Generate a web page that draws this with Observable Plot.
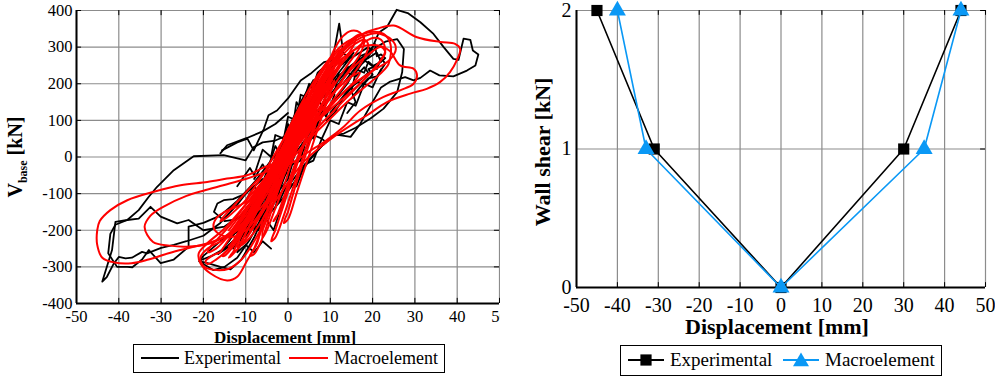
<!DOCTYPE html>
<html><head><meta charset="utf-8">
<script src="https://cdn.jsdelivr.net/npm/d3@7"></script>
<script src="https://cdn.jsdelivr.net/npm/@observablehq/plot@0.6"></script>
<style>
body{margin:0;background:#fff;}
#wrap{position:relative;width:995px;height:376px;overflow:hidden;background:#fff;font-family:"Liberation Serif","DejaVu Serif",serif;color:#000;}
#left,#right{position:absolute;top:0;}
#left{left:0;width:500px;overflow:hidden;}
#right{left:500px;}
.lab{position:absolute;font-weight:bold;white-space:nowrap;line-height:1;}
.legend{position:absolute;background:#fff;border:1.5px solid #000;box-sizing:border-box;}
.legend .t{position:absolute;white-space:nowrap;line-height:1;}
.legend svg{position:absolute;}
</style></head><body>
<div id="wrap">
  <div id="left"></div>
  <div id="right"></div>
</div>
<script>
// ---------- DATA ----------
const seriesNames = ["Experimental", "Macroelement"];
const xTicks = [-50, -40, -30, -20, -10, 0, 10, 20, 30, 40, 50];
const yTicksBase = [-400, -300, -200, -100, 0, 100, 200, 300, 400];
const yTicksWall = [0, 1, 2];

// Left panel: experimental hysteresis (displacement mm, base shear kN)
const experimentalLoops = [
  [[0,0],[1.5,40],[3,75],[2.2,55],[0.5,20],[-1,-20],[-2.8,-60],[-2,-45],[0,-5]],
  [[0,-5],[2,50],[4,90],[5.5,120],[4.5,100],[2,60],[-0.5,10],[-3,-45],[-5,-90],[-6.5,-120],[-5,-105],[-2,-45],[0,0]],
  [[0,0],[2.5,70],[5,120],[7,150],[8.5,175],[7,155],[4,110],[1,50],[-2,-10],[-4.5,-65],[-7,-120],[-9,-150],[-10,-170],[-8,-150],[-5,-100],[-1,-25]],
  [[-1,-25],[2,45],[4.5,115],[7,160],[9,190],[11,215],[10,200],[7.5,170],[4,120],[1.5,70],[-1,15],[-4,-45],[-7,-100],[-9.5,-150],[-12,-195],[-13.5,-215],[-12,-205],[-9,-165],[-6,-110],[-2,-40]],
  [[-2,-40],[1,30],[3,90],[6,150],[9,210],[12,245],[14,265],[15.5,285],[14,260],[11,215],[8,175],[5,130],[2,80],[-1,20],[-4,-40],[-7,-110],[-10,-165],[-13,-215],[-15,-245],[-16.5,-265],[-14,-245],[-10,-185],[-6,-120],[-2,-45]],
  [[-2,-20],[0,60],[2,110],[4,140],[5,170],[3,130],[1,90],[-1,40],[-3,0],[-4,-40],[-6,-90],[-5,-70],[-3,-40],[-1,10]],
  [[-3,-50],[0,30],[3,100],[5.3,150],[8,200],[10,230],[12.1,364],[13.1,282],[15,270],[17,285],[19,300],[20,290],[18,260],[16,240],[14,200],[12,170],[9,130],[6,80],[3,30],[0,-20],[-3,-80],[-6,-140],[-9,-185],[-12,-220],[-14,-240],[-11,-215],[-8,-175],[-5,-120],[-3,-50]],
  [[-2,-20],[1,50],[4,110],[8,170],[12,220],[15,250],[18,275],[20,300],[21.5,340],[23.4,355],[25.7,402],[28.3,393],[31.3,368],[34.4,336],[36.8,300],[39.1,268],[40.3,265],[41.5,323],[43.1,320],[43.7,291],[45,280],[44.3,250],[42.3,236],[39.1,220],[35.8,223],[33.6,236],[31.3,216],[29.7,209],[27.7,218],[24,205],[22,190],[20,150],[17.1,91],[14.8,55],[11,62],[8,30],[4,-20],[0,-80],[-3.4,-200],[-5.3,-168],[-7,-160],[-10,-180],[-14,-210],[-18,-250],[-20,-270],[-21,-285],[-19,-290],[-16,-300],[-13.6,-307],[-11,-280],[-8,-220],[-5,-140],[-2,-60]],
  [[0,0],[4,90],[8,160],[12,210],[15,250],[18,275],[21,300],[23,315],[25.8,322],[27.4,295],[27,232],[25.8,177],[22.6,132],[19.5,105],[16,80],[13.2,64],[10.8,59],[8,30],[5,-10],[2,-60],[-1,-110],[-4,-150]],
  [[-15.6,18],[-12,40],[-9.6,50],[-8.1,18],[-5.7,77],[-4.6,114],[-2.6,127],[0,160],[3,209],[5.3,227],[8.5,259],[11,265],[13,255]],
  [[0,60],[-3,45],[-6,40],[-8.1,27],[-10,-9],[-15.2,5],[-22.3,2],[-27,-36],[-31,-82],[-33,-110],[-35.3,-145],[-38,-172],[-40.8,-177],[-41.6,-254],[-43.9,-340],[-42.8,-327],[-41.2,-291],[-40,-273],[-38.4,-277],[-36.9,-275],[-34.5,-259],[-33.3,-263],[-30,-248],[-27,-240],[-24,-230],[-20,-215],[-16,-180],[-12,-130],[-8,-70],[-4,-10],[-1,40]],
  [[-16,10],[-14.4,32],[-9.7,52],[-6,70],[-3,90],[0,120]],
  [[-10,-150],[-15,-190],[-20,-200],[-23.5,-172],[-26.2,-181],[-30.1,-163],[-32.5,-136],[-35.3,-168],[-38,-172],[-40.8,-185],[-42,-210],[-42.5,-263],[-40.4,-300],[-38,-300],[-36.8,-301],[-34.5,-280],[-32.9,-254],[-30.1,-290],[-27,-280],[-23.5,-245],[-23.5,-190],[-20,-180],[-16,-160],[-12,-120],[-8,-70]],
  [[-6,-110],[-9,-170],[-12,-220],[-15,-250],[-18,-270],[-20.7,-282],[-20,-292],[-17.6,-309],[-15,-300],[-12,-275],[-9,-225],[-6,-160],[-3,-90]],
  [[-6,-60],[-10,-100],[-13,-115],[-15.2,-118],[-16.7,-127],[-17.5,-150],[-15,-175],[-12,-170],[-9,-140],[-6,-100]],
  [[10,180],[12,220],[14,245],[16,250],[17,275],[19,285],[20,300],[20.5,310],[21,275],[22,280],[23,270],[21,250],[19,240],[20,225],[18,200],[16,205],[14,180],[12,150],[10,120]],
  [[13,200],[15,230],[17,260],[19,270],[21,285],[22,260],[20,248],[18,265],[16,230],[15,180],[16,150],[14,120]],
  [[-6,-150],[-4,-90],[-2,-40],[0,20],[2,70],[4,110],[6,150],[7,140],[5,100],[3,50],[1,0],[-1,-60],[-3,-120],[-5,-160],[-7,-190],[-6,-150]],
  [[-9,-180],[-7,-120],[-5,-70],[-3,-20],[-1,40],[1,100],[3,150],[5,190],[6,210],[5,185],[3,130],[1,80],[-1,20],[-3,-40],[-5,-100],[-7,-150],[-9,-200],[-10,-215],[-9,-180]],
  [[-12,-230],[-9,-160],[-6,-110],[-3,-50],[0,20],[2,80],[5,140],[8,200],[10,240],[11,250],[9,210],[7,170],[4,110],[1,50],[-2,-10],[-5,-80],[-8,-150],[-11,-210],[-13,-250],[-12,-230]],
  [[-10,-120],[-8,-80],[-7,-100],[-5,-40],[-4,-60],[-2,10],[-1,-10],[1,60],[2,40],[4,110],[5,90],[7,160],[8,140],[10,190]],
  [[10,140],[8,120],[6,60],[4,40],[3,-10],[1,-20],[0,-60],[-2,-90],[-3,-140],[-5,-150],[-6,-190]],
  [[8,130],[10,170],[12,200],[14,230],[16,220],[18,245],[19,230],[17,210],[15,190],[13,160],[11,120],[9,100]],
  [[-8,-200],[-7,-150],[-9,-130],[-6,-90],[-4,-100],[-3,-50],[-1,-30],[0,30],[2,20],[3,80],[5,70],[6,130],[8,120],[9,170],[11,175],[12,230]],
  [[-14,-230],[-11,-170],[-9,-190],[-7,-120],[-6,-140],[-4,-80],[-3,-100],[-1,-30],[0,-50],[2,20],[3,0],[5,70],[6,50],[8,130],[9,110],[11,170]],
  [[16,240],[18,230],[19,260],[21,240],[22,270],[23,255],[21,220],[19,215],[17,190],[15,160]],
  [[-4,-250],[-6,-230],[-8,-260],[-10,-240],[-12,-260],[-11,-220],[-9,-190],[-7,-200],[-5,-150]],
  [[-8,-60],[-6,-20],[-5,-40],[-3,30],[-2,10],[0,90],[1,70],[2,150],[3,130],[5,200],[6,180],[8,240]],
  [[-12,-80],[-9,-30],[-8,-50],[-6,20],[-4,0],[-3,60],[-1,50],[0,110],[2,100],[3,170],[5,160],[7,230],[9,250]],
  [[4,20],[6,60],[8,50],[10,100],[12,90],[14,150],[16,140],[18,200],[20,190],[22,240]],
  [[-2,-120],[0,-70],[2,-80],[4,-20],[6,-10],[8,50],[9,40]]
];

// Left panel: macroelement hysteresis
const macroelementLoops = [
  [[-4,-70],[-2,-30],[0,10],[2,50],[4,85],[5,100],[4.5,95],[3,65],[1,25],[-1,-15],[-3,-55],[-4.5,-85],[-5,-95],[-4,-70]],
  [[-6,-100],[-3,-40],[0,20],[3,80],[6,130],[7.5,155],[7,150],[5,115],[2,55],[-1,-10],[-4,-70],[-7,-125],[-8,-140],[-7,-120],[-6,-100]],
  [[-8,-140],[-4,-60],[0,20],[4,100],[8,170],[10,205],[10.5,210],[9,190],[6,140],[2,70],[-2,-10],[-6,-90],[-9,-160],[-11,-195],[-11.5,-200],[-10,-175],[-8,-140]],
  [[-10,-180],[-6,-100],[-2,-10],[2,80],[6,160],[10,230],[12,260],[13,270],[12.5,260],[10,215],[6,150],[2,80],[-2,0],[-6,-90],[-10,-170],[-13,-230],[-14,-245],[-13,-230],[-10,-180]],
  [[-12,-220],[-8,-140],[-4,-50],[0,40],[4,130],[8,210],[12,280],[15,320],[17,335],[18,330],[17,300],[14,250],[10,180],[6,110],[2,40],[-2,-30],[-6,-110],[-10,-190],[-13,-245],[-15,-270],[-15.5,-270],[-14,-250],[-12,-220]],
  [[-16,-260],[-12,-190],[-8,-110],[-4,-30],[0,50],[4,140],[8,220],[12,285],[16,325],[20,342],[22.6,336],[24.2,309],[23.8,255],[21.8,227],[18,190],[14,150],[10,105],[6,60],[2,10],[-2,-50],[-6,-120],[-10,-190],[-14,-250],[-17,-280],[-19,-292],[-19.5,-285],[-18,-270],[-16,-260]],
  [[-6,-80],[-2,-10],[2,80],[6,160],[9,225],[12,275],[15,315],[18,338],[21,350],[25,359],[30.5,327],[36,314],[39.5,309],[40.7,295],[39.9,264],[38.3,232],[36,205],[32.8,186],[28.9,173],[23.4,150],[18.7,114],[15.5,91],[10.8,55],[7.6,27],[4,-10],[0,-70],[-3,-120],[-5.7,-163],[-7.3,-236],[-9.6,-281],[-12,-327],[-14.4,-337],[-18.3,-318],[-20.7,-290],[-21.1,-263],[-19.1,-236],[-15,-195],[-10,-130],[-6,-80]],
  [[-6,-80],[-2,0],[2,90],[6,170],[10,235],[14,280],[17,300],[21,305],[24,290],[26.5,250],[29.7,241],[30.5,223],[29.7,200],[26.5,182],[22.6,164],[17.1,127],[13.1,82],[9,45],[5,15],[1,-15],[-5,-40],[-10,-60],[-15.3,-77],[-20,-92],[-24,-106],[-29.5,-136],[-32.5,-160],[-33.9,-191],[-31.9,-232],[-28,-242],[-24,-245],[-18.5,-236],[-14,-210],[-10,-160],[-6,-80]],
  [[0,-10],[-5,-25],[-9.7,-50],[-14.4,-59],[-19.1,-68],[-25.4,-77],[-31.7,-95],[-38,-118],[-42,-145],[-44.5,-175],[-45.1,-200],[-45.1,-240],[-43.9,-275],[-41,-288],[-37,-290],[-33,-280],[-28,-262],[-23,-247],[-18,-232],[-13,-205],[-8,-140],[-4,-70],[0,-10]],
  [[-3,-60],[-8,-110],[-12,-135],[-15,-150],[-16.8,-165],[-17.6,-191],[-16,-212],[-13,-218],[-10,-200],[-7,-160],[-4,-100],[-3,-60]],
  [[-5,-120],[-10,-180],[-15,-225],[-19,-250],[-20.7,-275],[-20,-298],[-17.6,-308],[-14,-305],[-11,-280],[-8,-230],[-5,-160],[-5,-120]],
  [[-2,-20],[2,70],[6,160],[9,240],[11,295],[13,330],[15,345],[17,340],[18,315],[17,280],[14,230],[10,160],[6,100],[2,40],[-2,-20]],
  [[0,40],[5,150],[10,250],[14,300],[18,330],[21,338],[24.5,320],[25.5,295],[24,265],[20,235],[15,195],[10,140],[5,80],[0,20],[0,40]],
  [[-5,-130],[-3,-60],[0,10],[3,80],[6,150],[8,190],[9,200],[8,170],[5,100],[2,30],[-1,-40],[-4,-110],[-6,-150],[-6.5,-160],[-5,-130]],
  [[-7,-170],[-4,-90],[-1,-10],[2,60],[5,135],[8,195],[10,235],[11,245],[10,220],[7,160],[4,95],[1,25],[-2,-50],[-5,-120],[-8,-185],[-9,-200],[-7,-170]],
  [[-11,-230],[-8,-160],[-5,-80],[-2,0],[1,80],[4,150],[7,215],[10,265],[12,290],[13,295],[12,270],[9,215],[6,150],[3,80],[0,5],[-3,-75],[-6,-145],[-9,-205],[-11.5,-245],[-12,-245],[-11,-230]],
  [[-13,-260],[-10,-190],[-7,-110],[-4,-30],[-1,50],[2,120],[5,185],[8,240],[11,285],[14,315],[16,325],[15.5,305],[13,260],[10,205],[6,130],[3,60],[0,-10],[-3,-90],[-7,-170],[-10,-225],[-13,-265],[-14,-275],[-13,-260]],
  [[-4,-50],[-1,20],[2,80],[4,120],[5,130],[4,105],[1,45],[-2,-20],[-5,-80],[-7,-115],[-6.5,-100],[-4,-50]],
  [[-3,-100],[-1,-40],[1,20],[3,70],[5,110],[6.5,130],[6,115],[4,65],[1,0],[-1,-50],[-3,-105],[-4,-125],[-3,-100]],
  [[-8,-120],[-5,-60],[-2,0],[1,70],[4,140],[6,185],[7,195],[6.5,170],[4,115],[1,50],[-2,-20],[-5,-85],[-8,-140],[-9,-150],[-8,-120]],
  [[-2,-150],[0,-80],[2,-20],[4,40],[6,100],[7,120],[6,90],[3,20],[1,-40],[-1,-110],[-3,-170],[-3.5,-175],[-2,-150]],
  [[-9,-100],[-6,-50],[-3,10],[0,70],[3,140],[4,160],[3,130],[0,60],[-3,-10],[-6,-70],[-9,-120],[-10,-125],[-9,-100]],
  [[-6,-200],[-4,-140],[-2,-80],[0,-20],[2,40],[4,90],[5,110],[4.5,95],[3,50],[1,-10],[-1,-80],[-3,-140],[-5,-200],[-6,-220],[-6,-200]],
  [[1,30],[4,80],[8,140],[12,190],[15,220],[17,230],[16,210],[13,175],[9,125],[5,75],[2,35]],
  [[-14,-200],[-10,-140],[-6,-90],[-3,-40],[-6,-80],[-10,-150],[-14,-210]],
  [[-10,-210],[-7,-140],[-4,-60],[-1,20],[2,100],[5,170],[8,230],[10,265],[11,270],[11,250],[9,200],[6,130],[3,60],[0,-20],[-3,-100],[-6,-170],[-9,-220],[-11,-240],[-10,-210]],
  [[-12,-180],[-8,-110],[-4,-40],[0,30],[4,110],[7,170],[9,200],[10,205],[9,180],[6,120],[2,50],[-2,-30],[-6,-110],[-10,-175],[-13,-200],[-12,-180]],
  [[-3,-200],[-1,-130],[1,-60],[3,10],[5,80],[7,140],[9,190],[10,200],[9,170],[7,110],[5,50],[3,-20],[1,-90],[-1,-160],[-3,-220],[-4,-230],[-3,-200]],
  [[0,-150],[2,-70],[4,0],[6,70],[8,140],[10,190],[11,210],[10,175],[8,110],[6,40],[4,-30],[2,-100],[0,-170],[-1,-180],[0,-150]],
  [[-15,-160],[-11,-110],[-7,-60],[-3,-10],[1,50],[4,100],[6,130],[5,100],[1,40],[-3,-20],[-7,-80],[-11,-130],[-15,-170],[-16,-175],[-15,-160]],
  [[-8,-250],[-6,-190],[-4,-120],[-2,-50],[0,20],[2,90],[4,150],[5,170],[4,130],[2,60],[0,-10],[-2,-80],[-4,-150],[-6,-220],[-8,-265],[-9,-270],[-8,-250]],
  [[2,60],[6,150],[10,230],[13,280],[16,310],[18,320],[19,305],[18,270],[15,220],[11,160],[7,100],[3,50],[2,60]],
  [[5,100],[9,190],[13,260],[17,305],[20,325],[22,320],[23,290],[21,250],[17,200],[12,150],[8,110],[5,80]],
  [[3,40],[7,110],[11,180],[15,240],[19,280],[22,300],[23,285],[21,250],[17,200],[12,140],[7,80],[4,40]],
  [[-18,-240],[-14,-190],[-10,-130],[-6,-70],[-2,-10],[-5,-60],[-9,-130],[-13,-200],[-17,-250],[-19,-260],[-18,-240]]
];

// Right panel: wall shear vs displacement
const wallExperimentalX = [-45, -31, 0, 30, 44];
const wallExperimentalY = [2, 1, 0, 1, 2];
const wallMacroelementX = [-40, -33, 0, 35, 44];
const wallMacroelementY = [2, 1, 0, 1, 2];

// ---------- BUILD ----------
const toRows = (loops, s) => loops.flatMap((loop, i) => loop.map(([x, y]) => ({x, y, loop: s + i})));
const expRows = toRows(experimentalLoops, "e");
const macRows = toRows(macroelementLoops, "m");
const wallExp = wallExperimentalX.map((x, i) => ({x, y: wallExperimentalY[i]}));
const wallMac = wallMacroelementX.map((x, i) => ({x, y: wallMacroelementY[i]}));
const fmt = d => String(d);
const GRID = "#8c8c8c";
const BLUE = "#0a98f5";
const FONT = "'Liberation Serif', 'DejaVu Serif', serif";

const left = Plot.plot({
  width: 500, height: 330,
  marginLeft: 76, marginRight: 1, marginTop: 10, marginBottom: 27,
  style: {fontFamily: FONT, fontSize: "16.5px", color: "#000", background: "transparent", overflow: "hidden"},
  x: {domain: [-50, 50], ticks: xTicks, tickFormat: fmt, tickSize: 0, tickPadding: 7, label: null},
  y: {domain: [-400, 400], ticks: yTicksBase, tickFormat: fmt, tickSize: 0, tickPadding: 4, label: null},
  marks: [
    Plot.ruleX(xTicks, {stroke: GRID, strokeWidth: 1.2}),
    Plot.ruleY(yTicksBase, {stroke: GRID, strokeWidth: 1.2}),
    Plot.ruleX(xTicks, {y1: -400, y2: -386, stroke: "#000"}),
    Plot.ruleX(xTicks, {y1: 400, y2: 386, stroke: "#000"}),
    Plot.ruleY(yTicksBase, {x1: -50, x2: -48.8, stroke: "#000"}),
    Plot.ruleY(yTicksBase, {x1: 50, x2: 48.8, stroke: "#000"}),
    Plot.line(expRows, {x: "x", y: "y", z: "loop", stroke: "#000", strokeWidth: 1.8, strokeLinejoin: "round"}),
    Plot.line(macRows, {x: "x", y: "y", z: "loop", stroke: "#ff0000", strokeWidth: 2, curve: "catmull-rom"}),
    Plot.ruleX([-50], {stroke: "#000", strokeWidth: 2}),
    Plot.ruleY([-400], {stroke: "#000", strokeWidth: 2})
  ]
});
document.getElementById("left").appendChild(left);

const right = Plot.plot({
  width: 495, height: 330,
  marginLeft: 76, marginRight: 10, marginTop: 10, marginBottom: 43,
  style: {fontFamily: FONT, fontSize: "20px", color: "#000", background: "transparent", overflow: "visible"},
  x: {domain: [-50, 50], ticks: xTicks, tickFormat: fmt, tickSize: 0, tickPadding: 10, label: null},
  y: {domain: [0, 2], ticks: yTicksWall, tickFormat: fmt, tickSize: 0, tickPadding: 5, label: null},
  marks: [
    Plot.ruleX(xTicks, {stroke: GRID, strokeWidth: 1.2}),
    Plot.ruleY(yTicksWall, {stroke: GRID, strokeWidth: 1.2}),
    Plot.ruleX(xTicks, {y1: 0, y2: 0.035, stroke: "#000"}),
    Plot.ruleX(xTicks, {y1: 2, y2: 1.965, stroke: "#000"}),
    Plot.ruleY(yTicksWall, {x1: 50, x2: 48.8, stroke: "#000"}),
    Plot.ruleX([-50], {stroke: "#000", strokeWidth: 2}),
    Plot.ruleY([0], {stroke: "#000", strokeWidth: 2}),
    Plot.line(wallExp, {x: "x", y: "y", stroke: "#000", strokeWidth: 1.6}),
    Plot.dot(wallExp, {x: "x", y: "y", symbol: "square", r: 6.3, fill: "#000"}),
    Plot.line(wallMac, {x: "x", y: "y", stroke: BLUE, strokeWidth: 1.6}),
    Plot.dot(wallMac, {x: "x", y: "y", symbol: "triangle", r: 6.3, fill: BLUE})
  ]
});
document.getElementById("right").appendChild(right);

// ---------- LABELS & LEGENDS ----------
const wrap = document.getElementById("wrap");
function addLabel(html, css) {
  const d = document.createElement("div");
  d.className = "lab";
  d.innerHTML = html;
  Object.assign(d.style, css);
  wrap.appendChild(d);
  return d;
}
addLabel("Displacement [mm]", {left: "285px", top: "329px", fontSize: "17px", transform: "translateX(-50%)"});
addLabel("Displacement [mm]", {left: "777px", top: "316px", fontSize: "22px", transform: "translateX(-50%)"});
addLabel('V<sub style="font-size:12px;vertical-align:-5px">base</sub> [kN]',
  {left: "17px", top: "157px", fontSize: "20px", transform: "translate(-50%,-50%) rotate(-90deg)"});
addLabel("Wall shear [kN]", {left: "543px", top: "152px", fontSize: "22px", transform: "translate(-50%,-50%) rotate(-90deg)"});

function legend(box, items, fs) {
  const lg = document.createElement("div");
  lg.className = "legend";
  Object.assign(lg.style, {left: box.x + "px", top: box.y + "px", width: box.w + "px", height: box.h + "px"});
  items.forEach(it => {
    const s = document.createElementNS("http://www.w3.org/2000/svg", "svg");
    s.setAttribute("width", it.sw); s.setAttribute("height", 20);
    s.style.left = it.sx + "px"; s.style.top = (box.cy - 10) + "px";
    let inner = `<line x1="0" y1="10" x2="${it.sw}" y2="10" stroke="${it.color}" stroke-width="1.8"/>`;
    const c = it.sw / 2;
    if (it.marker === "square") inner += `<rect x="${c-5.6}" y="4.4" width="11.2" height="11.2" fill="${it.color}"/>`;
    if (it.marker === "triangle") inner += `<path d="M${c},2.5 L${c+8},16.3 L${c-8},16.3 Z" fill="${it.color}"/>`;
    s.innerHTML = inner;
    lg.appendChild(s);
    const t = document.createElement("div");
    t.className = "t";
    t.textContent = it.name;
    Object.assign(t.style, {left: it.tx + "px", top: (box.cy - fs * 0.5) + "px", fontSize: fs + "px"});
    lg.appendChild(t);
  });
  wrap.appendChild(lg);
}
legend({x: 133, y: 344, w: 312, h: 29, cy: 12.5}, [
  {name: seriesNames[0], color: "#000", sw: 38, sx: 7, tx: 50},
  {name: seriesNames[1], color: "#ff0000", sw: 39, sx: 155, tx: 200}
], 18);
legend({x: 620, y: 345, w: 322, h: 31, cy: 13.5}, [
  {name: seriesNames[0], color: "#000", sw: 36, sx: 7, tx: 49, marker: "square"},
  {name: seriesNames[1], color: BLUE, sw: 36, sx: 162, tx: 204, marker: "triangle"}
], 19);
</script>
</body></html>
